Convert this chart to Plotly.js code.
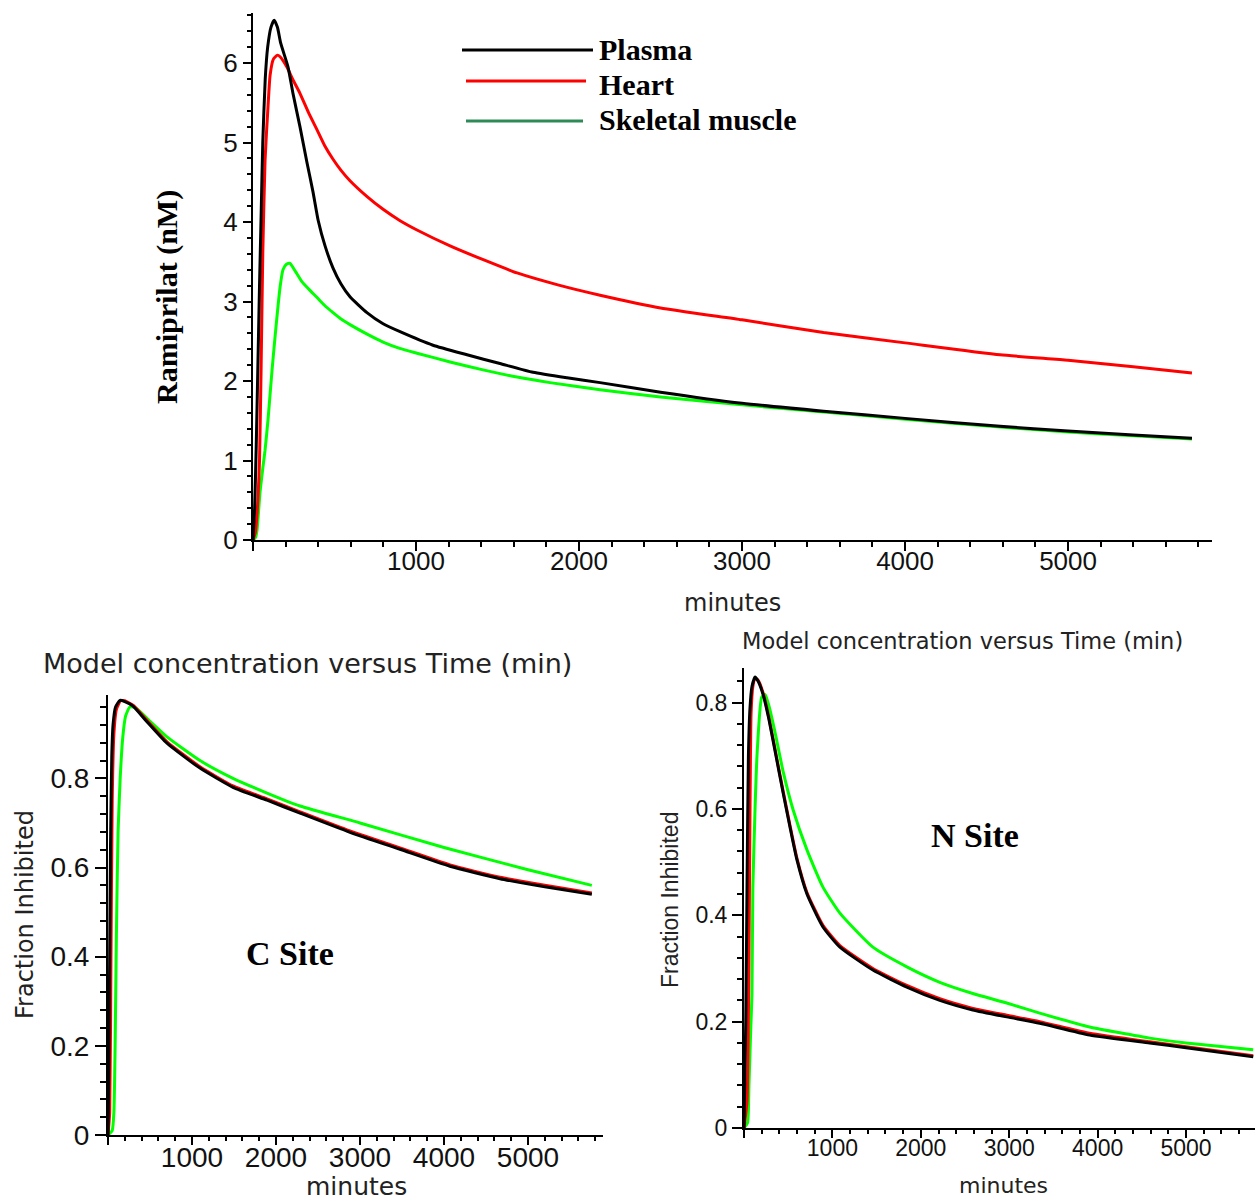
<!DOCTYPE html>
<html>
<head>
<meta charset="utf-8">
<script src="https://cdn.plot.ly/plotly-3.0.1.min.js"></script>
<style>html,body{margin:0;padding:0;background:#fff;}#chart{width:1255px;height:1201px;}</style>
</head>
<body>
<div id="chart"></div>
<script>
// ---------- Data (time in minutes) ----------
// Top panel: Ramiprilat concentration (nM)
const plasmaT = [0,10,20,30,40,50,60,75,90,110,130,150,170,215,245,288,331,368,400,442,491,540,595,699,798,902,1104,1313,1515,1718,1926,2129,2500,3000,3500,4000,4583,5000,5400,5760];
const plasmaC = [0,0.4,1.2,2.2,3.2,4.1,5.0,5.8,6.2,6.45,6.54,6.45,6.25,5.95,5.62,5.2,4.75,4.38,4.02,3.7,3.42,3.22,3.06,2.86,2.72,2.62,2.45,2.33,2.22,2.11,2.04,1.98,1.86,1.72,1.62,1.53,1.43,1.37,1.32,1.28];
const heartT = [0,15,30,40,50,60,74,92,105,125,150,166,208,245,288,340,393,440,491,540,595,700,798,900,1006,1209,1420,1620,1870,2129,2500,3000,3500,4000,4583,5000,5400,5760];
const heartC = [0,0.1,0.5,1.0,2.2,3.6,4.78,5.45,5.85,6.05,6.1,6.08,5.95,5.79,5.62,5.38,5.16,4.96,4.79,4.65,4.52,4.32,4.16,4.02,3.9,3.7,3.52,3.36,3.21,3.08,2.92,2.77,2.61,2.48,2.33,2.26,2.18,2.10];
const muscleT = [0,15,25,43,60,74,92,117,135,166,184,205,227,260,300,345,393,440,491,540,595,700,798,900,1006,1209,1411,1620,1822,2129,2500,3000,3500,4000,4583,5000,5400,5760];
const muscleC = [0,0.03,0.13,0.6,0.9,1.13,1.51,2.14,2.55,3.18,3.4,3.47,3.48,3.38,3.25,3.15,3.05,2.95,2.86,2.78,2.71,2.59,2.49,2.41,2.35,2.24,2.14,2.05,1.98,1.89,1.80,1.70,1.61,1.52,1.42,1.36,1.31,1.27];

// Bottom left: C site fraction inhibited
const cPlasmaT = [0,10,20,30,45,60,90,143,200,298,450,702,1095,1488,1893,2286,2881,3476,4071,4667,5200,5760];
const cPlasmaF = [0,0.15,0.4,0.65,0.85,0.92,0.96,0.975,0.972,0.962,0.93,0.879,0.823,0.78,0.751,0.722,0.679,0.641,0.603,0.575,0.557,0.54];
const cHeartT = [0,20,35,50,70,100,150,200,298,450,702,1095,1488,1893,2286,2881,3476,4071,4667,5200,5760];
const cHeartF = [0,0.05,0.4,0.75,0.9,0.955,0.974,0.974,0.964,0.933,0.882,0.826,0.783,0.754,0.725,0.682,0.644,0.606,0.578,0.56,0.543];
const cMuscleT = [0,50,70,85,100,120,145,175,210,260,330,500,702,1095,1488,1893,2286,3000,4000,5000,5760];
const cMuscleF = [0,0.01,0.05,0.2,0.45,0.68,0.8,0.89,0.94,0.96,0.958,0.928,0.893,0.84,0.80,0.767,0.738,0.70,0.645,0.595,0.56];

// Bottom right: N site fraction inhibited
const nPlasmaT = [0,20,34,50,68,90,125,160,216,280,373,443,520,599,712,893,1085,1458,1842,2215,2588,2972,3345,3910,4588,5000,5760];
const nPlasmaF = [0,0.2,0.45,0.7,0.79,0.83,0.848,0.84,0.815,0.77,0.69,0.63,0.566,0.504,0.44,0.378,0.34,0.297,0.265,0.24,0.222,0.209,0.197,0.175,0.16,0.151,0.134];
const nHeartT = [0,34,55,68,80,100,125,160,216,280,373,443,520,599,712,893,1085,1458,1842,2215,2588,2972,3345,3910,4588,5000,5760];
const nHeartF = [0,0.05,0.3,0.6,0.78,0.83,0.845,0.842,0.818,0.773,0.693,0.633,0.569,0.507,0.443,0.381,0.343,0.3,0.268,0.243,0.225,0.212,0.2,0.178,0.162,0.153,0.136];
const nMuscleT = [0,40,56,75,90,100,125,147,200,240,280,350,443,556,712,893,1085,1458,1842,2215,2588,2972,3345,3910,4588,5000,5760];
const nMuscleF = [0,0.01,0.08,0.18,0.25,0.45,0.6,0.7,0.81,0.815,0.795,0.745,0.67,0.598,0.523,0.453,0.404,0.34,0.303,0.274,0.253,0.235,0.216,0.19,0.169,0.16,0.147];

// Tick labels
const xTickVals = [0,1000,2000,3000,4000,5000];
const xTickText = ['','1000','2000','3000','4000','5000'];
const topYTickVals = [0,1,2,3,4,5,6];
const fracCTickVals = [0,0.2,0.4,0.6,0.8];
const fracCTickText = ['0','0.2','0.4','0.6','0.8'];
const fracNTickVals = [0,0.2,0.4,0.6,0.8];
const fracNTickText = ['0','0.2','0.4','0.6','0.8'];
const legendNames = ['Plasma','Heart','Skeletal muscle'];

// ---------- Layout helpers ----------
const W = 1255, H = 1201;
const px = v => v / W;
const py = v => 1 - v / H;

const black = '#000000', red = '#ff0000', green = '#00ff00', legendGreen = '#2e8b57';
const LW = 3;

function tr(x, y, color, xa, ya) {
  return {x: x, y: y, type: 'scatter', mode: 'lines', line: {color: color, width: LW, shape: 'spline', smoothing: 0.5},
          xaxis: xa, yaxis: ya, showlegend: false, hoverinfo: 'skip'};
}

const data = [
  tr(muscleT, muscleC, green, 'x', 'y'),
  tr(heartT, heartC, red, 'x', 'y'),
  tr(plasmaT, plasmaC, black, 'x', 'y'),
  tr(cMuscleT, cMuscleF, green, 'x2', 'y2'),
  tr(cHeartT, cHeartF, red, 'x2', 'y2'),
  tr(cPlasmaT, cPlasmaF, black, 'x2', 'y2'),
  tr(nMuscleT, nMuscleF, green, 'x3', 'y3'),
  tr(nHeartT, nHeartF, red, 'x3', 'y3'),
  tr(nPlasmaT, nPlasmaF, black, 'x3', 'y3')
];

const sans = '"Liberation Sans", Arial, sans-serif';
const dejavu = '"DejaVu Sans", Verdana, sans-serif';
const serif = '"Liberation Serif", "Times New Roman", serif';

function xAxis(domain, range, anchor, fontSize, majLen, minLen, standoff) {
  return {
    domain: domain, range: range, anchor: anchor, fixedrange: true,
    showgrid: false, zeroline: false, showline: true, linecolor: '#000', linewidth: 2,
    tickmode: 'array', tickvals: xTickVals, ticktext: xTickText,
    ticks: 'outside', ticklen: majLen, tickwidth: 2, tickcolor: '#000',
    ticklabelstandoff: standoff,
    tickfont: {family: sans, size: fontSize, color: '#111'},
    minor: {tickmode: 'linear', tick0: 0, dtick: 200, ticks: 'outside', ticklen: minLen, tickwidth: 2, tickcolor: '#000', showgrid: false}
  };
}
function yAxis(domain, range, anchor, vals, text, minorD, fontSize, majLen, minLen) {
  return {
    domain: domain, range: range, anchor: anchor, fixedrange: true,
    showgrid: false, zeroline: false, showline: true, linecolor: '#000', linewidth: 2,
    tickmode: 'array', tickvals: vals, ticktext: text,
    ticks: 'outside', ticklen: majLen, tickwidth: 2, tickcolor: '#000',
    tickfont: {family: sans, size: fontSize, color: '#111'},
    minor: {tickmode: 'linear', tick0: 0, dtick: minorD, ticks: 'outside', ticklen: minLen, tickwidth: 2, tickcolor: '#000', showgrid: false}
  };
}

const layout = {
  width: W, height: H,
  margin: {l: 0, r: 0, t: 0, b: 0},
  paper_bgcolor: '#fff', plot_bgcolor: 'rgba(0,0,0,0)',
  showlegend: false,
  xaxis: xAxis([px(253), px(1212)], [0, 5883], 'y', 26, 9, 5, -12),
  yaxis: yAxis([py(540), py(13)], [0, 6.63], 'x', topYTickVals, topYTickVals.map(String), 0.2, 26, 8, 4),
  xaxis2: xAxis([px(108), px(603)], [0, 5893], 'y2', 28, 8, 4, -12),
  yaxis2: yAxis([py(1135), py(695)], [0, 0.987], 'x2', fracCTickVals, fracCTickText, 0.04, 28, 11, 6),
  xaxis3: xAxis([px(744), px(1255)], [0, 5780], 'y3', 23, 8, 4, -10),
  yaxis3: yAxis([py(1128), py(668)], [0, 0.865], 'x3', fracNTickVals, fracNTickText, 0.04, 23, 10, 5),
  shapes: [
    // top panel: x-axis stub extending left of the y axis (Maple-style crossing)
    {type: 'line', xref: 'x', yref: 'y', xsizemode: 'pixel', xanchor: 0, x0: -20, x1: 0, y0: 0, y1: 0, line: {color: '#000', width: 2}},
    // legend samples
    {type: 'line', xref: 'paper', yref: 'paper', x0: px(462), x1: px(593), y0: py(50), y1: py(50), line: {color: black, width: 3}},
    {type: 'line', xref: 'paper', yref: 'paper', x0: px(466), x1: px(586), y0: py(81), y1: py(81), line: {color: red, width: 3}},
    {type: 'line', xref: 'paper', yref: 'paper', x0: px(466), x1: px(583), y0: py(121), y1: py(121), line: {color: legendGreen, width: 3}}
  ],
  annotations: [
    {text: '<b>' + legendNames[0] + '</b>', xref: 'paper', yref: 'paper', x: px(597), y: py(50), xanchor: 'left', yanchor: 'middle', showarrow: false, font: {family: serif, size: 30, color: '#000'}},
    {text: '<b>' + legendNames[1] + '</b>', xref: 'paper', yref: 'paper', x: px(597), y: py(85), xanchor: 'left', yanchor: 'middle', showarrow: false, font: {family: serif, size: 30, color: '#000'}},
    {text: '<b>' + legendNames[2] + '</b>', xref: 'paper', yref: 'paper', x: px(597), y: py(120), xanchor: 'left', yanchor: 'middle', showarrow: false, font: {family: serif, size: 30, color: '#000'}},
    {text: '<b>Ramiprilat (nM)</b>', xref: 'paper', yref: 'paper', x: px(167), y: py(297), textangle: -90, xanchor: 'center', yanchor: 'middle', showarrow: false, font: {family: serif, size: 30, color: '#000'}},
    {text: 'minutes', xref: 'paper', yref: 'paper', x: px(732), y: py(603), xanchor: 'center', yanchor: 'middle', showarrow: false, font: {family: dejavu, size: 24, color: '#222'}},
    {text: 'Model concentration versus Time (min)', xref: 'paper', yref: 'paper', x: px(307), y: py(663), xanchor: 'center', yanchor: 'middle', showarrow: false, font: {family: dejavu, size: 27, color: '#222'}},
    {text: 'Fraction Inhibited', xref: 'paper', yref: 'paper', x: px(25), y: py(915), textangle: -90, xanchor: 'center', yanchor: 'middle', showarrow: false, font: {family: dejavu, size: 24, color: '#222'}},
    {text: 'minutes', xref: 'paper', yref: 'paper', x: px(356), y: py(1186), xanchor: 'center', yanchor: 'middle', showarrow: false, font: {family: dejavu, size: 25, color: '#222'}},
    {text: '<b>C Site</b>', xref: 'paper', yref: 'paper', x: px(290), y: py(953), xanchor: 'center', yanchor: 'middle', showarrow: false, font: {family: serif, size: 34, color: '#000'}},
    {text: 'Model concentration versus Time (min)', xref: 'paper', yref: 'paper', x: px(962), y: py(641), xanchor: 'center', yanchor: 'middle', showarrow: false, font: {family: dejavu, size: 22.5, color: '#222'}},
    {text: 'Fraction Inhibited', xref: 'paper', yref: 'paper', x: px(670), y: py(900), textangle: -90, xanchor: 'center', yanchor: 'middle', showarrow: false, font: {family: sans, size: 23, color: '#222'}},
    {text: 'minutes', xref: 'paper', yref: 'paper', x: px(1003), y: py(1185), xanchor: 'center', yanchor: 'middle', showarrow: false, font: {family: dejavu, size: 22, color: '#222'}},
    {text: '<b>N Site</b>', xref: 'paper', yref: 'paper', x: px(975), y: py(835), xanchor: 'center', yanchor: 'middle', showarrow: false, font: {family: serif, size: 34, color: '#000'}}
  ]
};

Plotly.newPlot('chart', data, layout, {staticPlot: true, displayModeBar: false});
</script>
</body>
</html>
